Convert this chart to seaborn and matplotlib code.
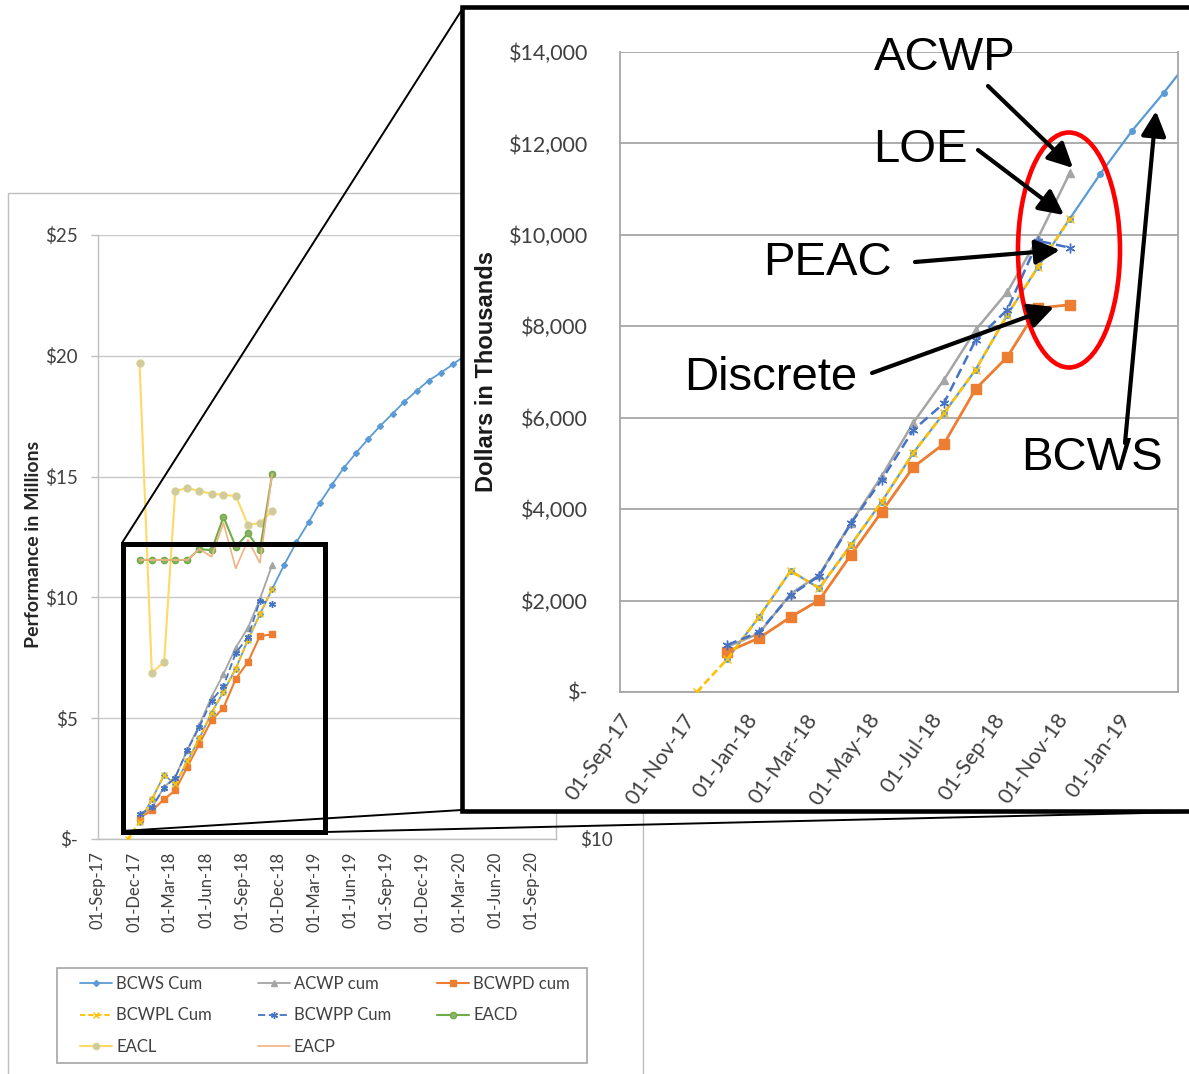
import numpy as np
import pandas as pd
import matplotlib
matplotlib.use("Agg")
import matplotlib.pyplot as plt
from matplotlib.patches import Rectangle, Ellipse
from matplotlib.lines import Line2D
from matplotlib.ticker import FuncFormatter, FixedLocator
import matplotlib.dates as mdates
import seaborn as sns

# ---------------------------------------------------------------
# Cumulative performance data, $ thousands, status at mid-month
# ---------------------------------------------------------------
status_months = pd.date_range("2017-12-01", "2018-11-01", freq="MS") + pd.Timedelta(days=14)
loe_months = pd.date_range("2017-11-01", "2018-11-01", freq="MS") + pd.Timedelta(days=14)
plan_months = pd.date_range("2017-12-01", "2020-03-01", freq="MS") + pd.Timedelta(days=14)

bcws_cum = [720, 1640, 2650, 2270, 3220, 4160, 5230, 6100, 7050, 8250, 9300, 10350,
            11335, 12276, 13107, 13900, 14660, 15360, 15980, 16550, 17100, 17600,
            18100, 18550, 18970, 19300, 19650, 20000]
acwp_cum = [990, 1280, 2150, 2560, 3700, 4720, 5890, 6830, 7920, 8750, 9930, 11350]
bcwpd_cum = [880, 1180, 1640, 2010, 3000, 3940, 4920, 5430, 6630, 7330, 8400, 8470]
bcwpl_cum = [0, 720, 1640, 2650, 2270, 3220, 4160, 5230, 6100, 7050, 8250, 9300, 10350]
bcwpp_cum = [1030, 1310, 2120, 2540, 3690, 4640, 5730, 6320, 7700, 8360, 9870, 9720]
eacd = [11550, 11550, 11550, 11550, 11550, 12000, 11950, 13330, 12100, 12650, 11950, 15100]
eacl = [19700, 6870, 7330, 14400, 14530, 14400, 14290, 14240, 14200, 13000, 13080, 13580]
eacp = [11550, 11550, 11550, 11550, 11550, 12000, 11680, 13080, 11200, 12380, 11430, 15100]

bg_yticks = [0, 5, 10, 15, 20, 25]
right_yticks = [10]
inset_yticks = [0, 2000, 4000, 6000, 8000, 10000, 12000, 14000]
bg_xticks = pd.date_range("2017-09-01", "2020-09-01", freq="3MS")
inset_xticks = pd.date_range("2017-09-01", "2019-01-01", freq="2MS")

callouts = ["ACWP", "LOE", "PEAC", "Discrete", "BCWS"]

# ---------------------------------------------------------------
C_BCWS, C_ACWP, C_BCWPD = "#5B9BD5", "#A5A5A5", "#ED7D31"
C_BCWPL, C_BCWPP = "#FFC000", "#4472C4"
C_EACD, C_EACL, C_EACP = "#70AD47", "#FFD966", "#F4B183"
STAR = (6, 2, 0)

sns.set_theme(style="white")
plt.rcParams["font.family"] = ["Lato", "DejaVu Sans"]

W, H = 1189, 1074
fig = plt.figure(figsize=(W / 100, H / 100), dpi=100)
fig.patch.set_facecolor("white")


def fx(x):
    return x / W


def fy(y):
    return 1 - y / H


def draw(ax, dates, vals, color, scale=1.0, marker=None, ms=5, lw=1.5, ls="-",
         mfc=None, mec=None, mew=1.0, z=2):
    sns.lineplot(x=dates, y=np.asarray(vals, dtype=float) / scale, ax=ax, color=color,
                 marker=marker, markersize=ms, linewidth=lw, linestyle=ls,
                 markerfacecolor=mfc or color, markeredgecolor=mec or color,
                 markeredgewidth=mew, zorder=z, legend=False)


# ---------------- outer panel (millions view) -------------------
fig.add_artist(Rectangle((fx(8), fy(1090)), fx(643) - fx(8), fy(193) - fy(1090),
                         transform=fig.transFigure, fill=False, ec="#BFBFBF", lw=1, zorder=-1))

ax = fig.add_axes([fx(98), fy(839), fx(556) - fx(98), fy(235) - fy(839)])
ax.set_zorder(0)
M = 1000.0
draw(ax, plan_months, bcws_cum, C_BCWS, M, marker="D", ms=3, lw=1.3, z=2)
draw(ax, status_months, acwp_cum, C_ACWP, M, marker="^", ms=4.5, lw=1.3, z=3)
draw(ax, status_months, bcwpd_cum, C_BCWPD, M, marker="s", ms=4.5, lw=1.5, z=4)
draw(ax, loe_months, bcwpl_cum, C_BCWPL, M, marker="x", ms=4.5, lw=1.3, ls=(0, (3, 1.5)), z=5)
draw(ax, status_months, bcwpp_cum, C_BCWPP, M, marker=STAR, ms=5, lw=1.3, ls=(0, (4, 2)), z=6)
draw(ax, status_months, eacd, C_EACD, M, marker="o", ms=4.5, lw=1.5, mfc="#8FB06A", z=3)
draw(ax, status_months, eacl, C_EACL, M, marker="o", ms=5, lw=1.5, mfc="#CFCB9E", mec="#D6CE92", z=2)
draw(ax, status_months, eacp, C_EACP, M, lw=1.2, z=4)

ax.set_xlim(pd.Timestamp("2017-09-01"), pd.Timestamp("2020-11-01"))
ax.set_ylim(0, 25)
ax.yaxis.set_major_locator(FixedLocator(bg_yticks))
ax.yaxis.set_major_formatter(FuncFormatter(lambda v, p: "$-" if v == 0 else f"${v:.0f}"))
ax.xaxis.set_major_locator(FixedLocator(mdates.date2num(bg_xticks)))
ax.xaxis.set_major_formatter(mdates.DateFormatter("%d-%b-%y"))
ax.yaxis.grid(True, color="#C8C8C8", lw=1)
ax.xaxis.grid(False)
for side in ("left", "bottom", "right"):
    ax.spines[side].set_color("#BFBFBF")
    ax.spines[side].set_linewidth(1)
ax.spines["top"].set_visible(False)
ax.tick_params(axis="both", which="major", direction="out", length=5, width=1,
               color="#BFBFBF", labelsize=12, labelcolor="#404040")
ax.tick_params(axis="y", pad=9.5, labelsize=13.5)
ax.tick_params(axis="x", pad=4)
plt.setp(ax.get_xticklabels(), rotation=90, ha="center")
ax.set_xlabel("")
ax.set_ylabel("Performance in Millions", fontsize=14, fontweight="bold", color="#262626")
ax.yaxis.set_label_coords(-0.122, 0.487)

# secondary scale on the right
ax_r = ax.twinx()
ax_r.set_ylim(10, 25)
ax_r.yaxis.set_major_locator(FixedLocator(right_yticks))
ax_r.yaxis.set_major_formatter(FuncFormatter(lambda v, p: f"${v:.0f}"))
ax_r.tick_params(axis="y", length=0, pad=17, labelsize=13.5, labelcolor="#404040")
for s in ax_r.spines.values():
    s.set_visible(False)

handles = [
    Line2D([], [], color=C_BCWS, lw=1.3, marker="D", ms=3),
    Line2D([], [], color=C_BCWPL, lw=1.3, ls=(0, (3, 1.5)), marker="x", ms=5),
    Line2D([], [], color=C_EACL, lw=1.5, marker="o", ms=4.5, mfc="#CFCB9E", mec="#D6CE92"),
    Line2D([], [], color=C_ACWP, lw=1.3, marker="^", ms=4.5),
    Line2D([], [], color=C_BCWPP, lw=1.3, ls=(0, (4, 2)), marker=STAR, ms=5),
    Line2D([], [], color=C_EACP, lw=1.2),
    Line2D([], [], color=C_BCWPD, lw=1.5, marker="s", ms=4.5),
    Line2D([], [], color=C_EACD, lw=1.5, marker="o", ms=4.5, mfc="#8FB06A"),
]
labels = ["BCWS Cum", "BCWPL Cum", "EACL", "ACWP cum", "BCWPP Cum", "EACP",
          "BCWPD cum", "EACD"]
fig.add_artist(Rectangle((fx(57), fy(1063)), fx(587) - fx(57), fy(968) - fy(1063),
                         transform=fig.transFigure, fill=False, ec="#A6A6A6", lw=1.2, zorder=0.2))
leg = ax.legend(handles, labels, ncol=3, loc="upper left",
                bbox_to_anchor=(fx(80), fy(976)), bbox_transform=fig.transFigure,
                borderaxespad=0, frameon=False, fontsize=12,
                handlelength=1.92, handletextpad=0.25, columnspacing=2.75,
                labelspacing=0.93, borderpad=0)
for t in leg.get_texts():
    t.set_color("#404040")

# zoom window and connector lines
for (x0, y0), (x1, y1) in [((122, 543), (463, 8)), ((122, 831), (462, 810)),
                           ((325, 832), (1189, 812))]:
    fig.add_artist(Line2D([fx(x0), fx(x1)], [fy(y0), fy(y1)], transform=fig.transFigure,
                          color="black", lw=1.4, zorder=0.5))
fig.add_artist(Rectangle((fx(122.5), fy(831.5)), fx(324.5) - fx(122.5), fy(543.5) - fy(831.5),
                         transform=fig.transFigure, fill=False, ec="black", lw=3.6, zorder=0.6))

# ---------------- enlarged panel (thousands view) ---------------
fig.add_artist(Rectangle((fx(462), fy(811)), fx(1215) - fx(462), fy(7) - fy(811),
                         transform=fig.transFigure, fc="white", ec="black", lw=3.3, zorder=1))

axi = fig.add_axes([fx(620), fy(692), fx(1178) - fx(620), fy(52) - fy(692)])
axi.set_zorder(2)
axi.set_facecolor("white")
draw(axi, plan_months, bcws_cum, C_BCWS, 1.0, marker="o", ms=4, lw=1.6, z=2)
draw(axi, status_months, acwp_cum, C_ACWP, 1.0, marker="^", ms=6, lw=1.8, z=3)
draw(axi, status_months, bcwpd_cum, C_BCWPD, 1.0, marker="s", ms=6.5, lw=2.0, z=4)
draw(axi, loe_months, bcwpl_cum, C_BCWPL, 1.0, marker="x", ms=6, lw=1.8, ls=(0, (3, 1.5)), z=5)
draw(axi, status_months, bcwpp_cum, C_BCWPP, 1.0, marker=STAR, ms=7, lw=1.8, ls=(0, (4, 2)), z=6)

axi.set_xlim(pd.Timestamp("2017-09-01"), pd.Timestamp("2019-03-01"))
axi.set_ylim(0, 14000)
axi.yaxis.set_major_locator(FixedLocator(inset_yticks))
axi.yaxis.set_major_formatter(FuncFormatter(lambda v, p: "$-" if v == 0 else f"${v:,.0f}"))
axi.xaxis.set_major_locator(FixedLocator(mdates.date2num(inset_xticks)))
axi.xaxis.set_major_formatter(mdates.DateFormatter("%d-%b-%y"))
axi.yaxis.grid(True, color="#A6A6A6", lw=1.3)
axi.xaxis.grid(False)
for side in ("left", "bottom", "right"):
    axi.spines[side].set_color("#A6A6A6")
    axi.spines[side].set_linewidth(1.3)
axi.spines["top"].set_visible(False)
axi.tick_params(axis="both", which="major", direction="out", length=7, width=1.3,
                color="#A6A6A6", labelsize=15.5, labelcolor="#404040")
axi.tick_params(axis="y", pad=16)
axi.tick_params(axis="x", pad=6)
plt.setp(axi.get_xticklabels(), rotation=55, ha="right", rotation_mode="anchor")
axi.set_xlabel("")
axi.set_ylabel("Dollars in Thousands", fontsize=17, fontweight="bold",
               family=["Liberation Sans", "DejaVu Sans"], color="#1A1A1A")
axi.yaxis.set_label_coords(-0.218, 0.5)

# emphasis ring around the latest status
axi.add_artist(Ellipse((fx(1069), fy(250)), fx(102), 235 / H, transform=fig.transFigure,
                       fill=False, ec="#FF0000", lw=3.3, zorder=7, clip_on=False))

callout_font = ["Liberation Sans", "DejaVu Sans"]
text_pos = [(945, 69.5), (920, 162), (827, 275), (771, 389.5), (1092, 470)]
for label, (tx, ty) in zip(callouts, text_pos):
    axi.text(fx(tx), fy(ty), label, transform=fig.transFigure, ha="center", va="baseline",
             fontsize=34, family=callout_font, color="black", zorder=9)

arrows = [((988, 86), (1073, 168)), ((978, 150), (1064, 215)), ((915, 262), (1060, 250)),
          ((872, 373), (1054, 307)), ((1125, 443), (1156, 111))]
for (x0, y0), (x1, y1) in arrows:
    axi.annotate("", xy=(fx(x1), fy(y1)), xytext=(fx(x0), fy(y0)),
                 xycoords="figure fraction", textcoords="figure fraction",
                 arrowprops=dict(arrowstyle="-|>,head_length=0.6,head_width=0.3",
                                 color="black", lw=3, mutation_scale=25,
                                 shrinkA=0, shrinkB=0), zorder=8, annotation_clip=False)

fig.savefig("out.png", dpi=100, facecolor="white")
